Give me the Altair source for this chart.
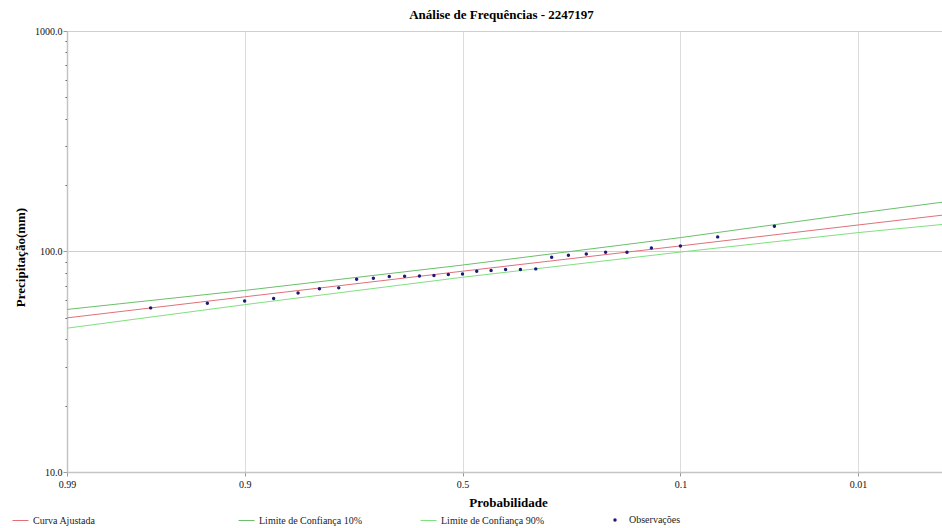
import altair as alt
import pandas as pd
from statistics import NormalDist

# ---------------- data ----------------
# exceedance probabilities at which the curves were read
curve_prob = [0.99, 0.9, 0.5, 0.1, 0.01, 0.0024]
curva_ajustada = [50.0, 62.3, 81.4, 106.0, 131.9, 146.1]
limite_10 = [54.6, 66.6, 86.8, 115.6, 149.2, 167.3]
limite_90 = [44.9, 57.4, 76.4, 99.4, 121.8, 132.6]

# observations (exceedance probability, precipitation mm)
obs_prob = [0.9667, 0.9333, 0.9, 0.8667, 0.8333, 0.8, 0.7667, 0.7333, 0.7, 0.6667,
            0.6333, 0.6, 0.5667, 0.5333, 0.5, 0.4667, 0.4333, 0.4, 0.3667, 0.3333,
            0.3, 0.2667, 0.2333, 0.2, 0.1667, 0.1333, 0.1, 0.0667, 0.0333]
obs_values = [55.5, 58.3, 59.7, 61.2, 64.9, 67.7, 68.4, 74.9, 75.6, 77.0,
              77.3, 77.5, 77.8, 78.6, 79.1, 81.4, 82.0, 82.9, 82.9, 83.4,
              94.2, 96.2, 97.5, 99.3, 99.3, 103.8, 106.0, 116.5, 130.2]

x_tick_prob = [0.99, 0.9, 0.5, 0.1, 0.01]
x_tick_labels = ["0.99", "0.9", "0.5", "0.1", "0.01"]
x_domain_prob = [0.99, 0.0024]

y_major = [10, 100, 1000]
y_minor = [20, 30, 40, 50, 60, 70, 80, 90, 200, 300, 400, 500, 600, 700, 800, 900]

series_names = ["Curva Ajustada", "Limite de Confiança 10%", "Limite de Confiança 90%", "Observações"]
series_colors = ["#e0707a", "#6cbf6c", "#80e080", "#1a1a7a"]

# ---------------- helpers ----------------
nd = NormalDist()


def zval(p):
    return nd.inv_cdf(1 - p)


def frame(probs, values, name):
    return pd.DataFrame({"z": [zval(p) for p in probs], "valor": values, "serie": name})


df_red = frame(curve_prob, curva_ajustada, series_names[0])
df_g10 = frame(curve_prob, limite_10, series_names[1])
df_g90 = frame(curve_prob, limite_90, series_names[2])
df_obs = frame(obs_prob, obs_values, series_names[3])

FONT = "Liberation Serif"
tick_z = [zval(p) for p in x_tick_prob]

# label expression for the probability axis
expr = "''"
for zz, lab in reversed(list(zip(tick_z, x_tick_labels))):
    expr = f"abs(datum.value - ({zz:.6f})) < 0.001 ? '{lab}' : " + expr

x_axis = alt.Axis(
    values=tick_z, labelExpr=expr, labelFlush=False, labelOverlap=False,
    labelFont=FONT, labelFontSize=10, labelColor="#111", labelPadding=3,
    tickSize=4, tickColor="#999", domainColor="#c4c4c4", domainWidth=1.5,
    grid=True, gridColor="#dcdcdc", gridWidth=1,
    title="Probabilidade", titleFont=FONT, titleFontSize=13, titleFontWeight="bold",
    titleColor="#000", titleX=441, titleY=34, titleAlign="center", titleBaseline="alphabetic",
)

major_test = "indexof([10,100,1000], datum.value) >= 0"
y_axis = alt.Axis(
    values=y_major + y_minor,
    labelExpr=f"{major_test} ? format(datum.value, '.1f') : ''",
    labelFlush=False, labelOverlap=False,
    labelFont=FONT, labelFontSize=10, labelColor="#111", labelPadding=1,
    tickSize={"condition": {"test": major_test, "value": 4}, "value": 2},
    tickColor={"condition": {"test": major_test, "value": "#999"}, "value": "#555"},
    domainColor="#c4c4c4", domainWidth=1.5,
    grid=True, gridColor="#cfcfcf", gridWidth=1,
    gridOpacity={"condition": {"test": "datum.value == 100 || datum.value == 1000", "value": 1}, "value": 0},
    title="Precipitação(mm)", titleFont=FONT, titleFontSize=13, titleFontWeight="bold",
    titleColor="#000", titleX=-43, titleY=226, titleAngle=270, titleAlign="center",
    titleBaseline="alphabetic",
)

x_enc = alt.X("z:Q", scale=alt.Scale(domain=[zval(x_domain_prob[0]), zval(x_domain_prob[1])],
                                     nice=False, zero=False), axis=x_axis)
y_enc = alt.Y("valor:Q", scale=alt.Scale(type="log", domain=[10, 1000], nice=False), axis=y_axis)


def line_legend(lx):
    return alt.Legend(orient="none", legendX=lx, legendY=481, title=None,
                      symbolType="stroke", symbolSize=256, symbolStrokeWidth=1,
                      labelFont=FONT, labelFontSize=10, labelColor="#222", labelOffset=4,
                      padding=0)


def line_layer(df, idx, lx):
    return alt.Chart(df).mark_line(strokeWidth=1, clip=True).encode(
        x=x_enc, y=y_enc,
        color=alt.Color("serie:N", scale=alt.Scale(domain=[series_names[idx]], range=[series_colors[idx]]),
                        legend=line_legend(lx)),
    )


red = line_layer(df_red, 0, -55)
g10 = line_layer(df_g10, 1, 171)
g90 = line_layer(df_g90, 2, 353)

obs = alt.Chart(df_obs).mark_circle(size=12, opacity=1).encode(
    x=x_enc, y=y_enc,
    color=alt.Color("serie:N", scale=alt.Scale(domain=[series_names[3]], range=[series_colors[3]]),
                    legend=alt.Legend(orient="none", legendX=543, legendY=484, title=None,
                                      symbolType="circle", symbolSize=12,
                                      labelFont=FONT, labelFontSize=10, labelColor="#222",
                                      labelOffset=9, padding=0)),
)

chart = alt.layer(g90, g10, red, obs).resolve_scale(color="independent").properties(
    width=875, height=441,
    autosize=alt.AutoSizeParams(type="none"),
    padding={"left": 67, "top": 31, "right": 0, "bottom": 56},
    title=alt.TitleParams(text="Análise de Frequências - 2247197", font=FONT, fontSize=13,
                          fontWeight="bold", color="#000", anchor="middle", frame="group",
                          dx=-3, dy=17, offset=11, baseline="alphabetic"),
    background="white",
).configure_view(stroke=None)

chart.save("out.html", embed_options={"renderer": "svg", "actions": False})
